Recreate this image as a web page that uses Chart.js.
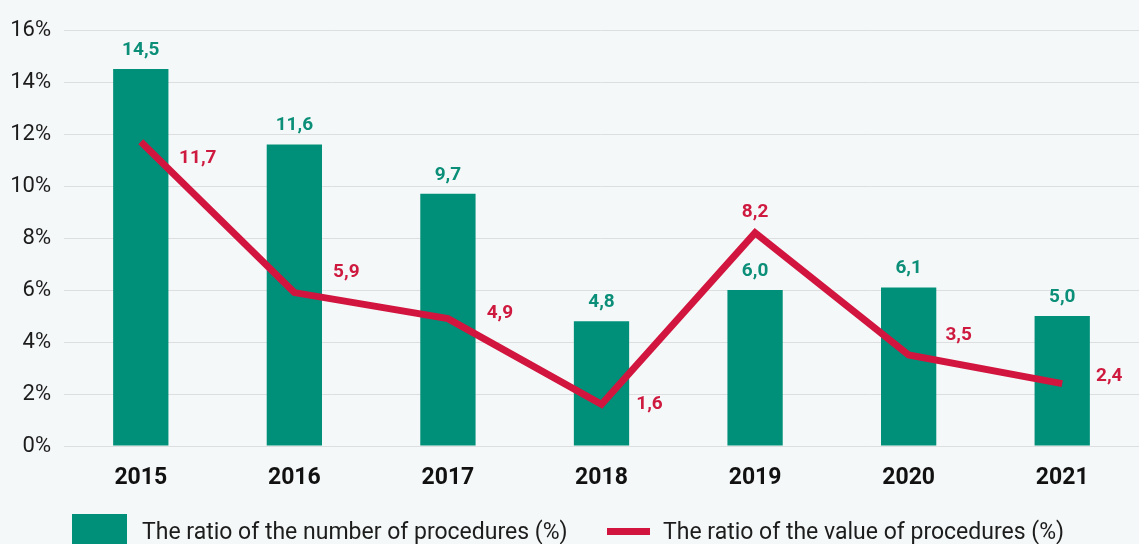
<!DOCTYPE html>
<html>
<head>
<meta charset="utf-8">
<script src="https://cdn.jsdelivr.net/npm/chart.js@4"></script>
<style>
  html, body { margin:0; padding:0; background:#f5f8f9; }
  #wrap { position:relative; width:1139px; height:544px; overflow:hidden; }
  #legend { position:absolute; left:0; top:514px; width:1139px; height:32px; font-family:Roboto, "Noto Sans", sans-serif; font-size:23px; color:#1c1c1c; }
  .item { position:absolute; top:0; display:flex; align-items:center; height:34px; white-space:nowrap; }
  .sw-bar { width:55px; height:34px; background:#009079; margin-right:15px; }
  .sw-line { width:43px; height:7px; background:#d2153e; margin-right:13px; }
</style>
</head>
<body>
<div id="wrap">
  <canvas id="c" width="1139" height="544"></canvas>
  <div id="legend">
    <div class="item" style="left:72px;"><div class="sw-bar"></div><span id="l0"></span></div>
    <div class="item" style="left:607px;"><div class="sw-line"></div><span id="l1"></span></div>
  </div>
</div>
<script>
const categories = ["2015", "2016", "2017", "2018", "2019", "2020", "2021"];
const numberRatio = [14.5, 11.6, 9.7, 4.8, 6.0, 6.1, 5.0];
const valueRatio = [11.7, 5.9, 4.9, 1.6, 8.2, 3.5, 2.4];
const seriesNames = ["The ratio of the number of procedures (%)", "The ratio of the value of procedures (%)"];
const yTicks = [0, 2, 4, 6, 8, 10, 12, 14, 16];

document.getElementById('l0').textContent = seriesNames[0];
document.getElementById('l1').textContent = seriesNames[1];

const GREEN = '#009079';
const RED = '#d2153e';
const FONT = 'Roboto, "Noto Sans", sans-serif';
const fmt = v => v.toFixed(1).replace('.', ',');
// label offsets (dx, dy) relative to each line point
const lineLabelOffsets = [[57, 16], [52, -20], [52, -5], [48, 0], [0, -21], [50, -20], [47, -7]];

const labelPlugin = {
  id: 'labels',
  afterDatasetsDraw(chart) {
    const ctx = chart.ctx;
    ctx.save();
    ctx.font = 'bold 19px ' + FONT;
    ctx.textAlign = 'center';
    ctx.textBaseline = 'middle';
    const barMeta = chart.getDatasetMeta(0);
    barMeta.data.forEach((el, i) => {
      ctx.fillStyle = '#0c8f78';
      ctx.fillText(fmt(numberRatio[i]), el.x, el.y - 19);
    });
    const lineMeta = chart.getDatasetMeta(1);
    lineMeta.data.forEach((el, i) => {
      const o = lineLabelOffsets[i];
      ctx.fillStyle = '#cf1a40';
      ctx.fillText(fmt(valueRatio[i]), el.x + o[0], el.y + o[1]);
    });
    ctx.restore();
  }
};

new Chart(document.getElementById('c'), {
  data: {
    labels: categories,
    datasets: [
      { type: 'bar', label: seriesNames[0], data: numberRatio, backgroundColor: GREEN, barPercentage: 0.36, categoryPercentage: 1, order: 2 },
      { type: 'line', label: seriesNames[1], data: valueRatio, borderColor: RED, borderWidth: 7, pointRadius: 0, tension: 0, fill: false, order: 1, borderCapStyle: 'butt', borderJoinStyle: 'miter' }
    ]
  },
  options: {
    responsive: false,
    animation: false,
    layout: { padding: { top: 30, bottom: 40, left: 0, right: 0 } },
    plugins: { legend: { display: false }, tooltip: { enabled: false } },
    scales: {
      x: {
        grid: { display: false },
        border: { display: false },
        ticks: { color: '#111', font: { family: FONT, size: 23, weight: 'bold' }, padding: 10 },
        afterFit(s) { s.height = 58; }
      },
      y: {
        min: 0, max: 16,
        afterBuildTicks(s) { s.ticks = yTicks.map(v => ({ value: v })); },
        grid: { color: '#dcdee0', lineWidth: 1, drawTicks: false },
        border: { display: false },
        ticks: { color: '#1c1c1c', font: { family: FONT, size: 22 }, padding: 13, callback: v => v + '%' },
        afterFit(s) { s.width = 64; }
      }
    }
  },
  plugins: [labelPlugin]
});
</script>
</body>
</html>
